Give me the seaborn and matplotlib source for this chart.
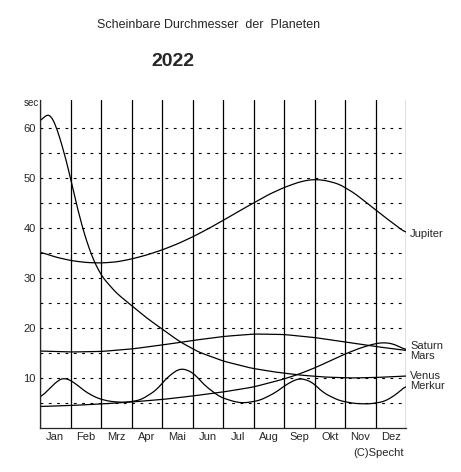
import numpy as np
import pandas as pd
import matplotlib
matplotlib.use("Agg")
import matplotlib.pyplot as plt
import seaborn as sns

sns.set_style("white")
plt.rcParams['font.family'] = ['Liberation Sans', 'DejaVu Sans']

months = ["Jan", "Feb", "Mrz", "Apr", "Mai", "Jun", "Jul", "Aug", "Sep", "Okt", "Nov", "Dez"]

# x in months since 1 Jan, values in arc seconds
venus_x = [0, 0.15, 0.3, 0.45, 0.6, 0.8, 1.0, 1.3, 1.65, 2.0, 2.5, 3.0, 3.5, 4.0, 4.6, 5.2, 6.0, 6.9, 7.7, 8.5, 9.3, 10.2, 11.0, 12.0]
venus_y = [61, 62.6, 63, 61.8, 59, 55, 50, 42, 35, 30.5, 27, 24.5, 22, 19.8, 17.2, 15.2, 13.4, 12, 11.2, 10.6, 10.2, 10.0, 10.1, 10.4]

merkur_x = [0, 0.3, 0.6, 0.8, 1.1, 1.5, 1.9, 2.3, 2.8, 3.3, 3.8, 4.2, 4.6, 5.0, 5.4, 5.9, 6.4, 6.7, 7.2, 7.7, 8.1, 8.5, 8.9, 9.3, 9.8, 10.3, 10.8, 11.3, 11.7, 12.0]
merkur_y = [6, 7.8, 9.6, 10.1, 9.2, 7.2, 5.9, 5.3, 5.1, 5.6, 7.5, 10.3, 12, 11.2, 8.5, 6.2, 5.2, 5.0, 5.5, 7.0, 8.8, 10.0, 9.3, 7.0, 5.5, 4.9, 4.8, 5.3, 6.8, 8.5]

mars_x = [0, 1, 2, 3, 4, 5, 6, 7, 8, 8.5, 9, 9.5, 10, 10.5, 11, 11.3, 11.6, 12]
mars_y = [4.3, 4.5, 4.8, 5.2, 5.7, 6.4, 7.2, 8.2, 9.8, 10.8, 12.0, 13.4, 14.8, 16.0, 16.9, 17.1, 16.8, 15.6]

saturn_x = [0, 1, 2, 3, 4, 5, 6, 7, 8, 9, 10, 11, 12]
saturn_y = [15.4, 15.2, 15.3, 15.8, 16.6, 17.5, 18.3, 18.8, 18.7, 18.1, 17.2, 16.3, 15.5]

jupiter_x = [0, 0.5, 1, 1.5, 2, 2.5, 3, 3.5, 4, 4.5, 5, 5.5, 6, 6.5, 7, 7.5, 8, 8.5, 8.9, 9.3, 9.8, 10.3, 10.8, 11.3, 12]
jupiter_y = [35.2, 34.2, 33.5, 33.1, 33.0, 33.2, 33.8, 34.6, 35.6, 36.8, 38.2, 39.8, 41.5, 43.3, 45.0, 46.7, 48.1, 49.2, 49.7, 49.6, 48.8, 47.0, 44.6, 42.2, 39.0]

series = [("Venus", venus_x, venus_y), ("Merkur", merkur_x, merkur_y), ("Mars", mars_x, mars_y),
          ("Saturn", saturn_x, saturn_y), ("Jupiter", jupiter_x, jupiter_y)]

fig = plt.figure(figsize=(4.61, 4.72), dpi=100)
ax = fig.add_axes([40 / 461, 1 - 428 / 472, 366 / 461, 328 / 472])

for name, xs, ys in series:
    xf = np.linspace(0, 12, 300)
    yf = np.interp(xf, xs, ys)
    # light smoothing of the polyline
    k = np.ones(9) / 9
    ys_s = np.convolve(np.pad(yf, 4, mode='edge'), k, mode='valid')
    df = pd.DataFrame({"x": xf, "y": ys_s})
    sns.lineplot(data=df, x="x", y="y", ax=ax, color="black", linewidth=0.9)

ax.set_xlim(0, 12)
ax.set_ylim(0, 65.6)
for m in range(13):
    ax.axvline(m, color="black", linewidth=0.9)
for v in range(5, 65, 5):
    ax.axhline(v, color="black", linewidth=0.8, linestyle=(0, (2.5, 5)))
ax.set_yticks(range(10, 61, 10))
ax.set_yticklabels([str(v) for v in range(10, 61, 10)], fontsize=8)
ax.set_xticks(np.arange(12) + 0.5)
ax.set_xticklabels(months, fontsize=8)
ax.tick_params(length=0, pad=3)
ax.set_xlabel("")
ax.set_ylabel("")
for s in ["top", "right"]:
    ax.spines[s].set_visible(False)
ax.spines["left"].set_linewidth(0.9)
ax.spines["bottom"].set_linewidth(0.9)

fig.text(24 / 461, 1 - 103 / 472, "sec", fontsize=7, va="center")
fig.text(209 / 461, 1 - 25 / 472, "Scheinbare Durchmesser  der  Planeten", fontsize=9, ha="center", va="center")
fig.text(173 / 461, 1 - 61 / 472, "2022", fontsize=14, fontweight="bold", ha="center", va="center")
fig.text(404 / 461, 1 - 453 / 472, "(C)Specht", fontsize=8, ha="right", va="center")

for label, yv in [("Jupiter", 234), ("Saturn", 346), ("Mars", 356), ("Venus", 376), ("Merkur", 386)]:
    fig.text(410 / 461, 1 - yv / 472, label, fontsize=8, va="center")

fig.savefig("out.png", dpi=100)
